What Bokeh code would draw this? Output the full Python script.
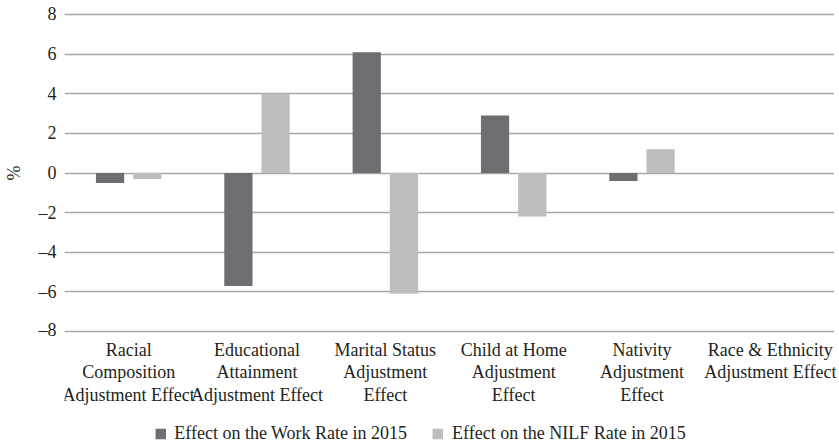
from bokeh.plotting import figure
from bokeh.layouts import column
from bokeh.models import (FactorRange, FixedTicker, Legend, LegendItem, Range1d,
                          ColumnDataSource)
from bokeh.core.properties import value
from bokeh.transform import dodge
from bokeh.embed import file_html
from bokeh.resources import INLINE

categories = [
    "Racial\nComposition\nAdjustment Effect",
    "Educational\nAttainment\nAdjustment Effect",
    "Marital Status\nAdjustment\nEffect",
    "Child at Home\nAdjustment\nEffect",
    "Nativity\nAdjustment\nEffect",
    "Race & Ethnicity\nAdjustment Effect",
]
work_rate = [-0.5, -5.7, 6.1, 2.9, -0.4, 0.0]
nilf_rate = [-0.3, 4.0, -6.1, -2.2, 1.2, 0.0]
series_names = ["Effect on the Work Rate in 2015", "Effect on the NILF Rate in 2015"]
y_ticks = [-8, -6, -4, -2, 0, 2, 4, 6, 8]
y_tick_labels = ["\u20138", "\u20136", "\u20134", "\u20132", "0", "2", "4", "6", "8"]

FONT = "'Liberation Serif', 'Times New Roman', serif"
TXT = "#231f20"
DARK = "#6d6e71"
LIGHT = "#bcbec0"

FRAME_W = 770
GROUP_W = FRAME_W / len(categories)

# ---------------- main chart ----------------
src = ColumnDataSource(dict(cat=categories, work=work_rate, nilf=nilf_rate))

p = figure(x_range=FactorRange(*categories, range_padding=0), y_range=Range1d(-8.1, 8.1),
           frame_width=FRAME_W, frame_height=321, output_backend="svg", toolbar_location=None,
           x_axis_location=None,
           min_border_left=63, min_border_right=0, min_border_top=12, min_border_bottom=6)
p.outline_line_color = None

r1 = p.vbar(x=dodge("cat", -0.145, range=p.x_range), top="work", bottom=0, width=0.22,
            source=src, fill_color=DARK, line_color=None)
r2 = p.vbar(x=dodge("cat", 0.145, range=p.x_range), top="nilf", bottom=0, width=0.22,
            source=src, fill_color=LIGHT, line_color=None)

p.xgrid.grid_line_color = None
p.ygrid.grid_line_color = "#a7a7a7"
p.ygrid.grid_line_width = 1.5
p.ygrid.level = "underlay"

ya = p.yaxis[0]
ya.ticker = FixedTicker(ticks=y_ticks)
ya.major_label_overrides = {t: l for t, l in zip(y_ticks, y_tick_labels)}
ya.axis_label = "%"
ya.axis_label_text_font_style = "normal"
ya.axis_label_standoff = 12
ya.axis_line_color = None
ya.major_tick_line_color = None
ya.minor_tick_line_color = None
ya.major_tick_out = 0
ya.major_tick_in = 0
ya.major_label_text_font = FONT
ya.major_label_text_font_size = "18px"
ya.major_label_text_color = TXT
ya.axis_label_text_font = FONT
ya.axis_label_text_font_size = "18px"
ya.axis_label_text_color = TXT
ya.major_label_standoff = 8

# ---------------- category labels + legend strip ----------------
PAD_R = 6
BOT_H = 106
xs = [i + 0.5 for i in range(len(categories))]
lab_src = ColumnDataSource(dict(x=xs, text=categories))

b = figure(x_range=Range1d(0, len(categories) + PAD_R / GROUP_W),
           y_range=Range1d(0, BOT_H),
           frame_width=FRAME_W + PAD_R, frame_height=BOT_H,
           output_backend="svg", toolbar_location=None,
           x_axis_location=None, y_axis_location=None,
           min_border_left=63, min_border_right=0, min_border_top=0, min_border_bottom=0)
b.outline_line_color = None
b.xgrid.grid_line_color = None
b.ygrid.grid_line_color = None

b.text(x="x", y=BOT_H, text="text", source=lab_src,
       text_align="center", text_baseline="top",
       text_font=value(FONT), text_font_size="18px", text_color=TXT, text_line_height=1.13)

# zero-height stand-ins so the legend in this strip can draw its swatches
lg1 = b.vbar(x=xs, top=0, bottom=0, width=0.22, fill_color=DARK, line_color=None)
lg2 = b.vbar(x=xs, top=0, bottom=0, width=0.22, fill_color=LIGHT, line_color=None)

legend = Legend(items=[LegendItem(label=series_names[0], renderers=[lg1]),
                       LegendItem(label=series_names[1], renderers=[lg2])],
                orientation="horizontal", location="bottom_center",
                label_text_font=FONT, label_text_font_size="18px", label_text_color=TXT,
                glyph_width=13, glyph_height=13, label_height=18, label_standoff=8, spacing=24,
                padding=0, margin=1, border_line_color=None, background_fill_alpha=0)
b.add_layout(legend, "center")

layout = column(p, b, spacing=0)

open("out.html", "w").write(file_html(layout, INLINE))
